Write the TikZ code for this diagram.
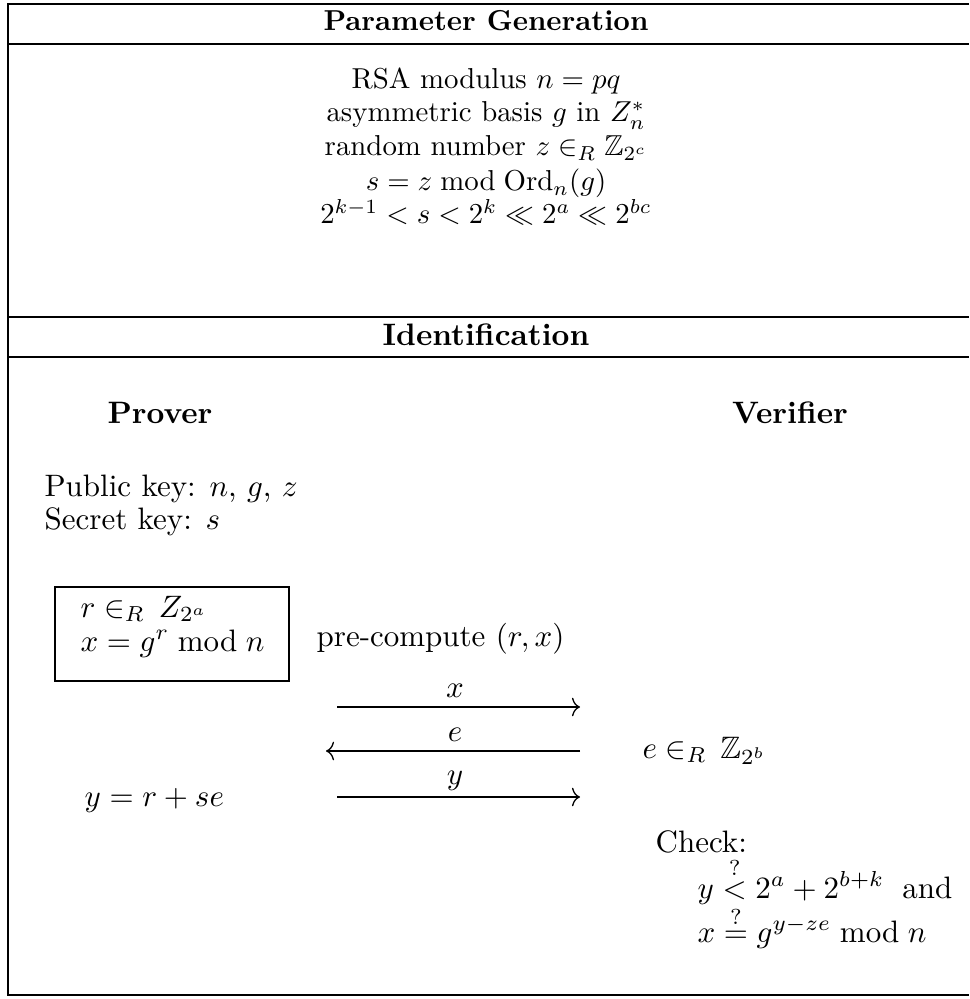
\documentclass[tikz,border=0pt]{standalone}
\usepackage{amsmath,amssymb}
\usetikzlibrary{arrows.meta,fit}
\begin{document}
\begin{tikzpicture}[x=0.3226pt,y=-0.3226pt,
  heavyrule/.style={line width=0.95pt},
  framerule/.style={line width=0.65pt},
  msg/.style={line width=0.42pt,-{To[length=2.6pt,width=6pt]}},
  ctxt/.style={inner sep=0pt,anchor=base},
  toptxt/.style={inner sep=0pt,anchor=base,scale=0.93},
  ltxt/.style={inner sep=0pt,anchor=base west},
  ttl/.style={inner sep=0pt,anchor=base,font=\bfseries},
  lbl/.style={inner sep=0pt,anchor=base},
  boxstyle/.style={draw,line width=0.65pt,inner sep=0pt}
]
\useasboundingbox (0,0) rectangle (969,999);
% frame
\coordinate (ftr) at (969,4);
\coordinate (ftl) at (8,4);
\coordinate (fbl) at (8,995);
\coordinate (fbr) at (969,995);
\draw[framerule] (ftr) -- (ftl) -- (fbl) -- (fbr);
\coordinate (h1l) at (8,44);  \coordinate (h1r) at (969,44);
\coordinate (h2l) at (8,317); \coordinate (h2r) at (969,317);
\coordinate (h3l) at (8,357); \coordinate (h3r) at (969,357);
\draw[heavyrule] (h1l) -- (h1r);
\draw[heavyrule] (h2l) -- (h2r);
\draw[heavyrule] (h3l) -- (h3r);
% titles
\node[ttl,scale=0.93] (pg) at (486,31) {Parameter Generation};
\node[ttl] (id) at (486,346) {Identification};
% parameters
\node[toptxt] (p1) at (486,89) {RSA modulus $n=pq$};
\node[toptxt] (p2) at (486,122) {asymmetric basis $g$ in $Z_n^*$};
\node[toptxt] (p3) at (486,156) {random number $z\in_R \mathbb{Z}_{2^c}$};
\node[toptxt] (p4) at (486,191) {$s=z \bmod \mathrm{Ord}_n(g)$};
\node[toptxt] (p5) at (486,224) {$2^{k-1}<s<2^k\ll 2^a\ll 2^{bc}$};
% parties
\node[ttl] (prover) at (160,424) {Prover};
\node[ttl] (verifier) at (790,424) {Verifier};
\node[ltxt] (pub) at (44,497) {Public key: $n$, $g$, $z$};
\node[ltxt] (sec) at (44,530) {Secret key: $s$};
% precompute box
\coordinate (bxa) at (55,587);
\coordinate (bxb) at (289,681);
\node[boxstyle,fit=(bxa)(bxb)] (box) {};
\node[ltxt] (b1) at (80,617) {$r\in_R\,Z_{2^a}$};
\node[ltxt] (b2) at (80,651) {$x=g^r \bmod n$};
\node[ltxt] (pre) at (316,646) {pre-compute $(r,x)$};
% messages
\coordinate (xs) at (337,707); \coordinate (xe) at (580,707);
\coordinate (es) at (580,751); \coordinate (ee) at (326,751);
\coordinate (ys) at (337,797); \coordinate (ye) at (580,797);
\draw[msg] (xs) -- (xe);
\draw[msg] (es) -- (ee);
\draw[msg] (ys) -- (ye);
\node[lbl] (xl) at (455,697) {$x$};
\node[lbl] (el) at (455,741) {$e$};
\node[lbl] (yl) at (455,784) {$y$};
\node[ltxt] (ech) at (642,758) {$e\in_R\,\mathbb{Z}_{2^b}$};
\node[ltxt] (yc) at (84,806) {$y=r+se$};
\node[ltxt] (chk) at (655,852) {Check:};
\node[ltxt] (c1) at (697,898) {$y\overset{?}{<}2^a+2^{b+k}$\hspace{2.5pt} and};
\node[ltxt] (c2) at (697,942) {$x\overset{?}{=}g^{y-ze}\bmod n$};
\end{tikzpicture}
\end{document}
